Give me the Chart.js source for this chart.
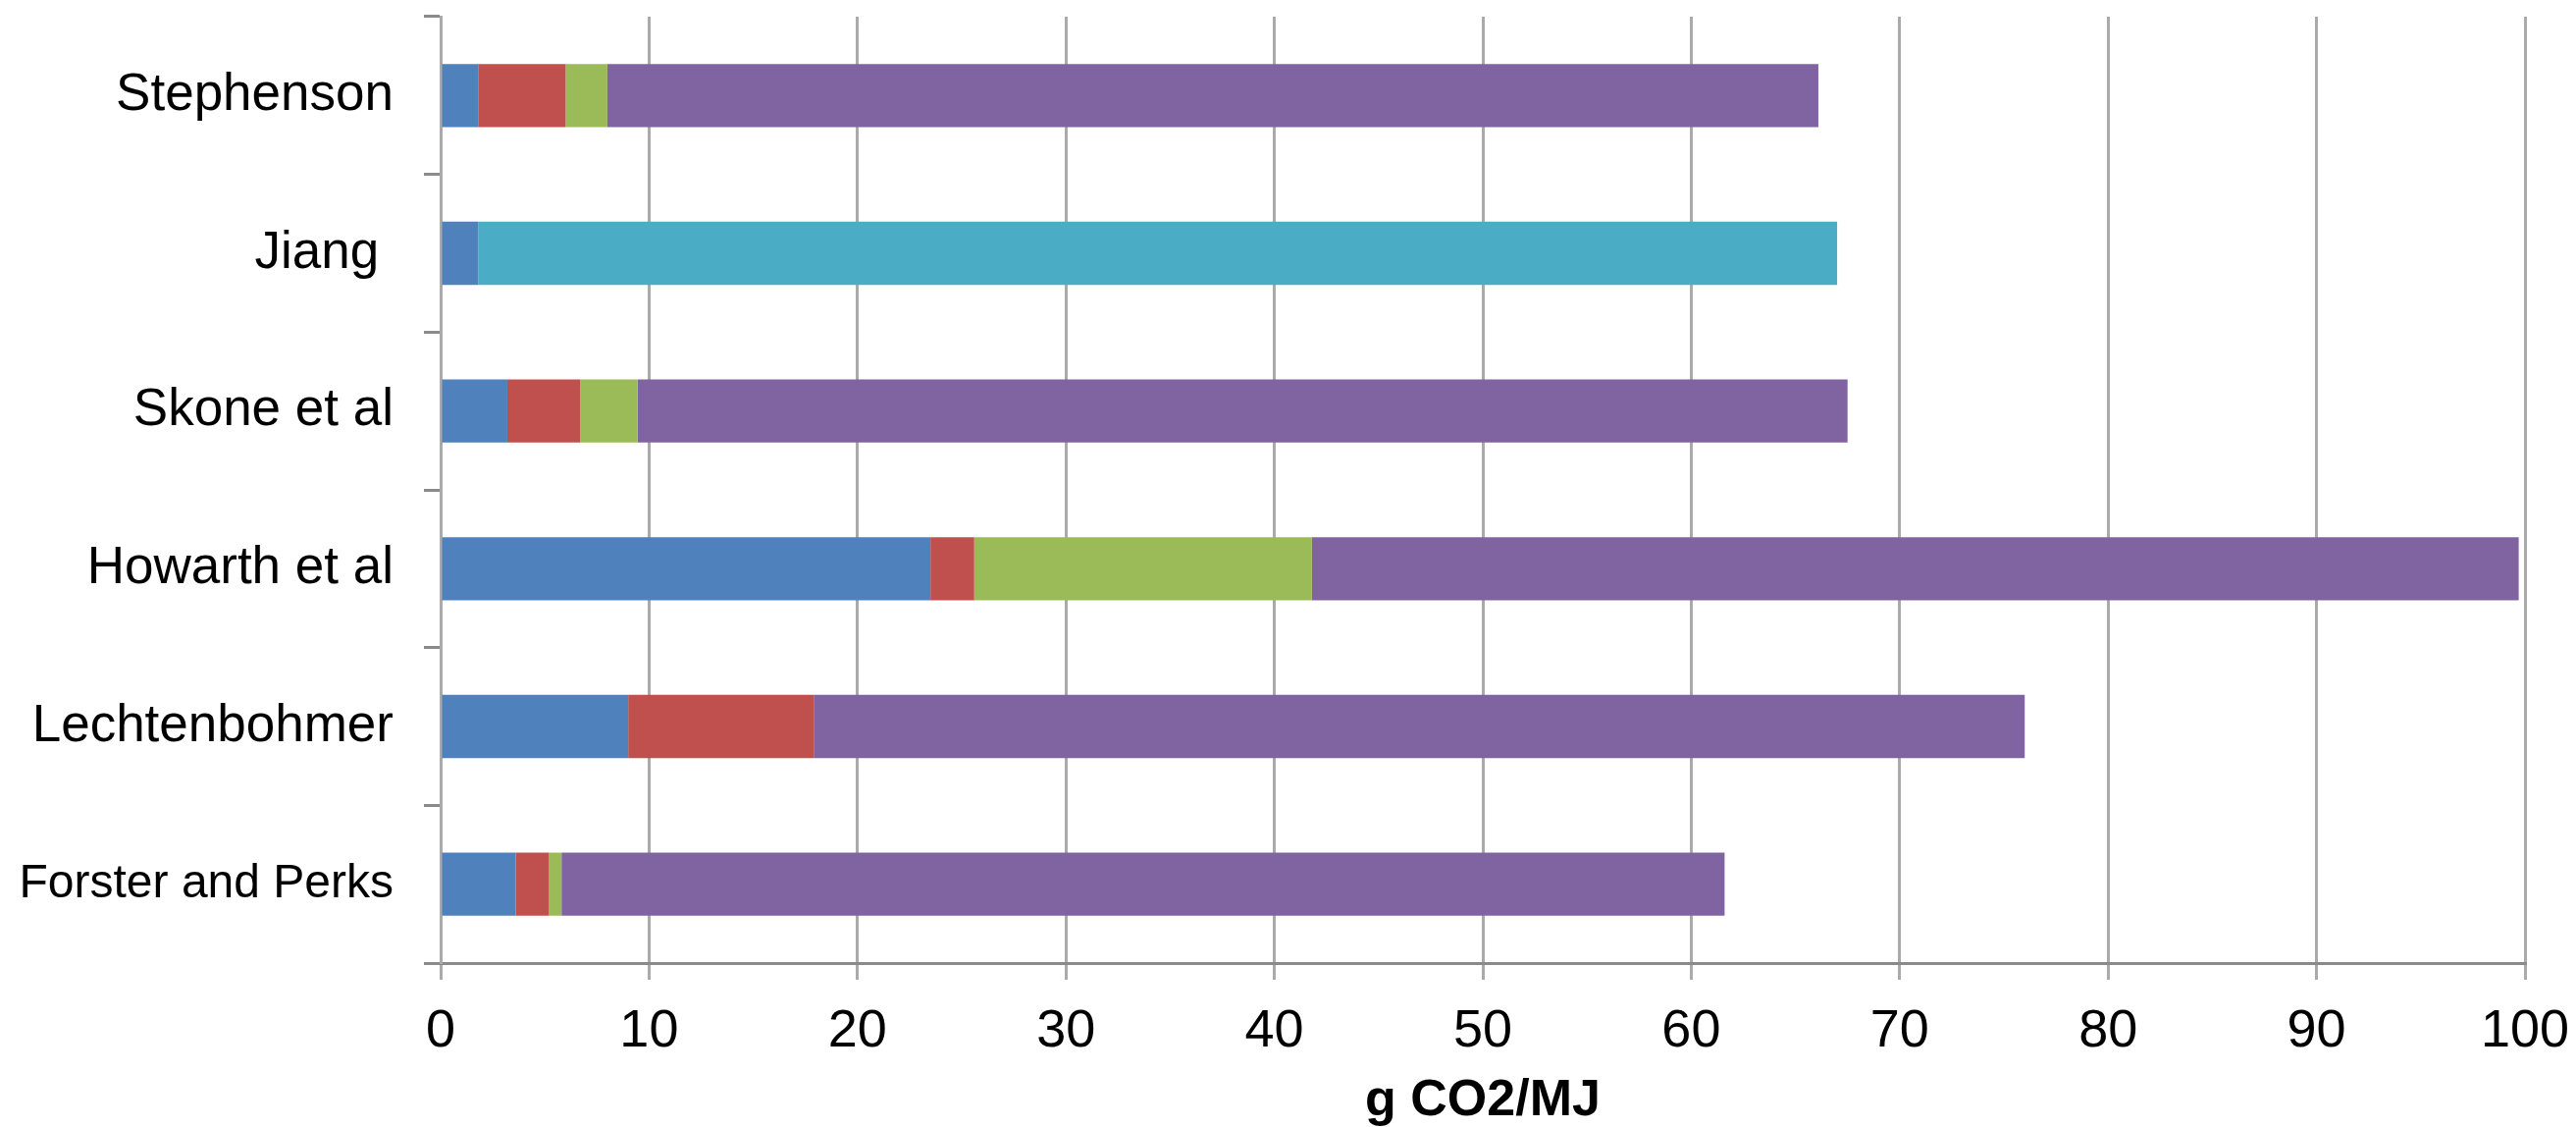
<!DOCTYPE html>
<html>
<head>
<meta charset="utf-8">
<script src="https://cdn.jsdelivr.net/npm/chart.js@4.4.1/dist/chart.umd.min.js"></script>
<style>
  html, body { margin: 0; padding: 0; background: #ffffff; }
  #wrap { width: 2625px; height: 1148px; }
</style>
</head>
<body>
<div id="wrap"><canvas id="chart" width="2625" height="1148"></canvas></div>
<script>
// Life-cycle emissions by study, stacked by stage (g CO2/MJ)
const studies = ["Stephenson", "Jiang ", "Skone et al", "Howarth et al", "Lechtenbohmer", "Forster and Perks"];

const preProduction      = [1.8, 1.8, 3.2, 23.5, 9.0, 3.6];
const production         = [4.2, null, 3.5, 2.1, 8.9, 1.6];
const processing         = [2.0, null, 2.75, 16.2, null, 0.6];
const combustion         = [58.1, null, 58.05, 57.9, 58.1, 55.8];
const combinedDownstream = [null, 65.2, null, null, null, null];

const xTicks = [0, 10, 20, 30, 40, 50, 60, 70, 80, 90, 100];
const xTitle = "g CO2/MJ";

const FONT = "'Liberation Sans', Arial, sans-serif";

const ctx = document.getElementById("chart").getContext("2d");
new Chart(ctx, {
  type: "bar",
  data: {
    labels: studies,
    datasets: [
      { label: "Pre-production", data: preProduction, backgroundColor: "#4F81BD" },
      { label: "Production", data: production, backgroundColor: "#C0504D" },
      { label: "Processing", data: processing, backgroundColor: "#9BBB59" },
      { label: "Transmission and combustion", data: combustion, backgroundColor: "#8064A2" },
      { label: "Processing, transmission and combustion", data: combinedDownstream, backgroundColor: "#4BACC6" }
    ]
  },
  options: {
    indexAxis: "y",
    responsive: false,
    animation: false,
    devicePixelRatio: 1,
    datasets: { bar: { categoryPercentage: 1.0, barPercentage: 0.4, borderWidth: 0 } },
    layout: { padding: { top: 17, right: 52, left: 0, bottom: 0 } },
    plugins: { legend: { display: false }, tooltip: { enabled: false } },
    scales: {
      x: {
        stacked: true,
        min: 0,
        max: 100,
        afterBuildTicks: (scale) => { scale.ticks = xTicks.map(v => ({ value: v })); },
        afterFit: (scale) => {
          scale.height = 167;
          scale.paddingLeft = 0;
          scale.paddingRight = 0;
        },
        grid: {
          color: "#aaaaaa",
          lineWidth: 3,
          drawTicks: true,
          tickLength: 17,
          tickColor: "#aaaaaa",
          tickWidth: 3
        },
        border: { display: true, color: "#8a8a8a", width: 3 },
        ticks: {
          color: "#000000",
          padding: 21,
          font: { family: FONT, size: 54 }
        },
        title: {
          display: true,
          text: xTitle,
          color: "#000000",
          padding: { top: 0, bottom: 0 },
          font: { family: FONT, size: 52, weight: "bold", lineHeight: 1.0 }
        }
      },
      y: {
        stacked: true,
        afterFit: (scale) => {
          scale.width = 449;
          scale.paddingTop = 0;
          scale.paddingBottom = 0;
        },
        grid: {
          offset: true,
          drawOnChartArea: false,
          drawTicks: true,
          tickLength: 17,
          tickColor: "#8a8a8a",
          tickWidth: 3
        },
        border: { display: true, color: "#aaaaaa", width: 3 },
        ticks: {
          color: "#000000",
          padding: 31,
          font: (c) => ({ family: FONT, size: c.index === 5 ? 48 : 53 })
        }
      }
    }
  }
});
</script>
</body>
</html>
